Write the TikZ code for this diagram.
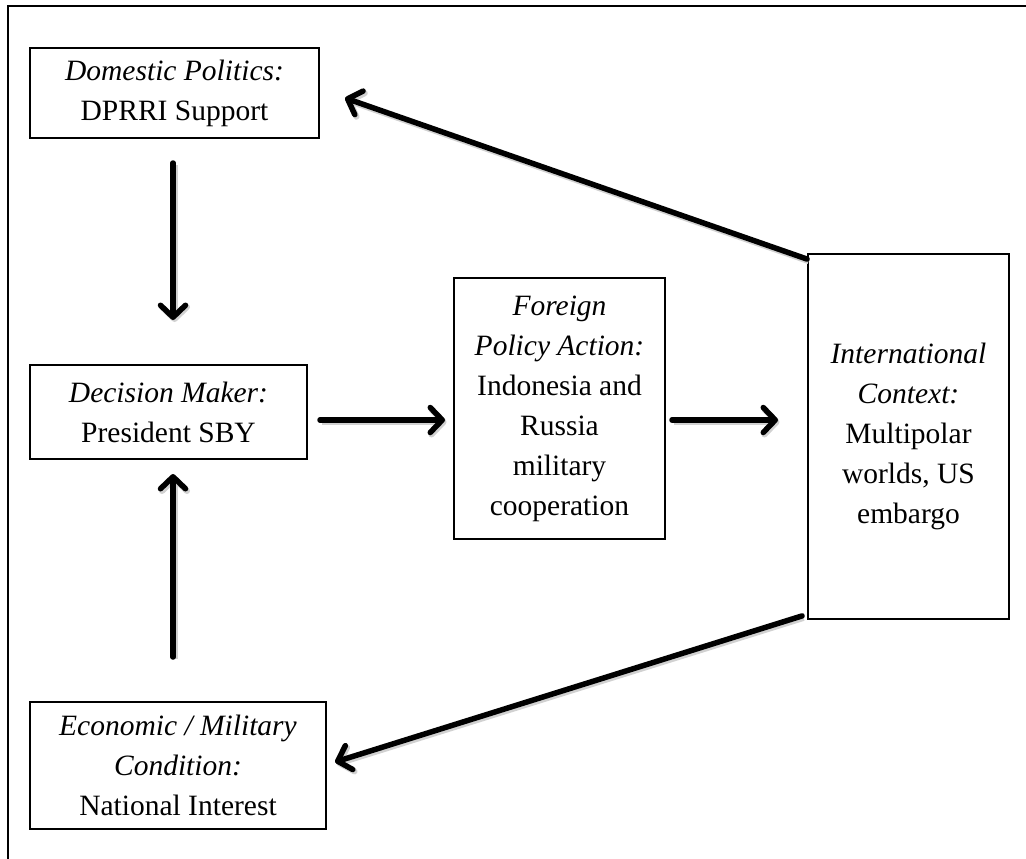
\documentclass[tikz,border=0pt]{standalone}
\usepackage{fontspec}
\setmainfont{Liberation Serif}
\usetikzlibrary{arrows.meta}
\tikzset{
  box/.style={draw, line width=1.8pt, inner sep=0pt, align=center, font=\fontsize{29.5}{40}\selectfont},
  conn/.style={line width=5.5pt, line cap=round, -{Straight Barb[length=12pt,width=25pt,round]},
    preaction={draw=black!18, line width=6pt, transform canvas={shift={(1.5pt,-2pt)}}}},
  frame/.style={line width=2pt}
}
\begin{document}
\begin{tikzpicture}[x=1pt,y=-1pt]
\useasboundingbox (0,0) rectangle (1026,859);
\coordinate (ftl) at (8,6);
\coordinate (ftr) at (1026,6);
\coordinate (fbl) at (8,859);
\draw[frame] (ftr) -- (ftl) -- (fbl);

\node[box, minimum width=289pt, minimum height=90pt] (dom) at (174.5,93)
  {\textit{Domestic Politics:}\\DPRRI Support};
\node[box, minimum width=277pt, minimum height=94pt] (dec) at (168.5,412)
  {\textit{Decision Maker:}\\President SBY};
\node[box, minimum width=296pt, minimum height=127pt] (eco) at (178,765.5)
  {\textit{Economic / Military}\\\textit{Condition:}\\National Interest};
\node[box, minimum width=211pt, minimum height=261pt] (for) at (559.5,408.5)
  {\textit{Foreign}\\\textit{Policy Action:}\\Indonesia and\\Russia\\military\\cooperation};
\node[box, minimum width=201pt, minimum height=365pt] (int) at (908.5,436.5)
  {\textit{International}\\\textit{Context:}\\Multipolar\\worlds, US\\embargo};

\coordinate (a1s) at (173,163);
\coordinate (a1e) at (173,320);
\coordinate (a2s) at (173,657);
\coordinate (a2e) at (173,474);
\coordinate (a3s) at (320,420);
\coordinate (a3e) at (445,420);
\coordinate (a4s) at (672,420);
\coordinate (a4e) at (778,420);
\coordinate (a5e) at (345,98);
\coordinate (a6e) at (335,762);

\draw[conn] (a1s) -- (a1e);
\draw[conn] (a2s) -- (a2e);
\draw[conn] (a3s) -- (a3e);
\draw[conn] (a4s) -- (a4e);
\draw[conn] ([yshift=-6pt]int.north west) -- (a5e);
\draw[conn] ([xshift=-5pt,yshift=4pt]int.south west) -- (a6e);
\end{tikzpicture}
\end{document}
